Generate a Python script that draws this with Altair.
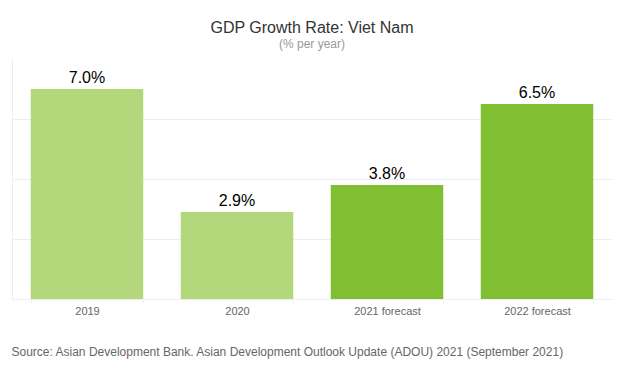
import altair as alt
import pandas as pd

categories = ["2019", "2020", "2021 forecast", "2022 forecast"]
values = [7.0, 2.9, 3.8, 6.5]
kinds = ["actual", "actual", "forecast", "forecast"]
labels = ["7.0%", "2.9%", "3.8%", "6.5%"]
grid_values = [0, 2, 4, 6]

df = pd.DataFrame({"cat": categories, "val": values, "kind": kinds, "lab": labels})

FONT = "Liberation Sans"

x = alt.X("cat:N", sort=categories,
          scale=alt.Scale(paddingInner=0.25, paddingOuter=0.125),
          axis=alt.Axis(title="Source: Asian Development Bank. Asian Development Outlook Update (ADOU) 2021 (September 2021)",
                        titleAnchor="start", titleFontWeight="normal", titleFontSize=12,
                        titleColor="#666666", titleFont=FONT, titlePadding=30, titleX=-1,
                        labelAngle=0, labelFontSize=11, labelColor="#666666", labelFont=FONT,
                        labelPadding=2, tickBand="extent", tickSize=4, tickColor="#eeeeee",
                        domainColor="#eeeeee"))
y = alt.Y("val:Q", scale=alt.Scale(domain=[0, 8]),
          axis=alt.Axis(title=None, labels=False, ticks=False, values=grid_values,
                        grid=True, gridColor="#eeeeee", domainColor="#eeeeee"))

bars = alt.Chart(df).mark_bar().encode(
    x=x, y=y,
    color=alt.Color("kind:N", scale=alt.Scale(domain=["actual", "forecast"], range=["#b2d87b", "#7fbf31"]), legend=None),
)
text = alt.Chart(df).mark_text(baseline="alphabetic", dy=-6, fontSize=16, font=FONT, color="#000000").encode(
    x=alt.X("cat:N", sort=categories), y="val:Q", text="lab:N"
)

chart = (bars + text).properties(
    width=600, height=240,
    title=alt.TitleParams("GDP Growth Rate: Viet Nam", subtitle="(% per year)",
                          font=FONT, fontSize=16, fontWeight="normal", color="#333333",
                          subtitleFont=FONT, subtitleFontSize=12, subtitleColor="#999999",
                          anchor="middle", offset=9, subtitlePadding=3),
    autosize=alt.AutoSizeParams(type="none"),
    padding={"left": 4, "top": 51, "right": 3, "bottom": 65},
).configure_view(stroke=None)

chart.save("out.html", embed_options={"renderer": "svg", "actions": False})
